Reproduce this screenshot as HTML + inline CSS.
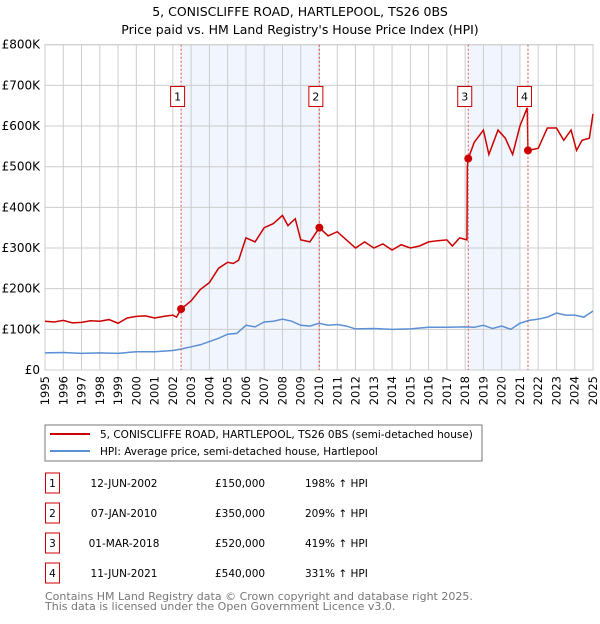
<!DOCTYPE html>
<html><head><meta charset="utf-8"><style>
body{margin:0;background:#fff;font-family:"DejaVu Sans","Liberation Sans",sans-serif}
svg text{font-family:"DejaVu Sans","Liberation Sans",sans-serif}
</style></head><body>
<svg id="c" width="600" height="620" xmlns="http://www.w3.org/2000/svg">
<text x="300" y="16" text-anchor="middle" font-size="12.5">5, CONISCLIFFE ROAD, HARTLEPOOL, TS26 0BS</text>
<text x="300" y="34" text-anchor="middle" font-size="12.5">Price paid vs. HM Land Registry's House Price Index (HPI)</text>
<g id="plot"></g>
<rect x="45" y="425" width="437" height="36" fill="none" stroke="#777"/>
<line x1="50" y1="434" x2="90" y2="434" stroke="#cc0000" stroke-width="2"/>
<text x="100" y="438" font-size="10.5">5, CONISCLIFFE ROAD, HARTLEPOOL, TS26 0BS (semi-detached house)</text>
<line x1="50" y1="451" x2="90" y2="451" stroke="#5b8fd6" stroke-width="2"/>
<text x="100" y="455" font-size="10.5">HPI: Average price, semi-detached house, Hartlepool</text>
<g id="table" font-size="10.5"></g>
<text x="45" y="600" font-size="11" fill="#777">Contains HM Land Registry data © Crown copyright and database right 2025.</text>
<text x="45" y="610" font-size="11" fill="#777">This data is licensed under the Open Government Licence v3.0.</text>
</svg>
<script>
const yTicks=[0,100,200,300,400,500,600,700,800];
const yTickLabels=["£0","£100K","£200K","£300K","£400K","£500K","£600K","£700K","£800K"];
const years=[1995,1996,1997,1998,1999,2000,2001,2002,2003,2004,2005,2006,2007,2008,2009,2010,2011,2012,2013,2014,2015,2016,2017,2018,2019,2020,2021,2022,2023,2024,2025];
const hpiT=[1995,1996,1997,1998,1999,2000,2001,2002,2002.5,2003,2003.5,2004,2004.5,2005,2005.5,2006,2006.5,2007,2007.5,2008,2008.5,2009,2009.5,2010,2010.5,2011,2011.5,2012,2013,2014,2015,2016,2017,2018,2018.5,2019,2019.5,2020,2020.5,2021,2021.5,2022,2022.5,2023,2023.5,2024,2024.5,2025];
const hpiV=[42,43,41,42,41,45,45,48,52,57,62,70,78,88,90,110,106,118,120,125,120,110,108,115,110,112,108,101,102,100,101,105,105,106,105,110,102,108,100,115,122,125,130,140,135,135,130,145];
const redT=[1995,1995.5,1996,1996.5,1997,1997.5,1998,1998.5,1999,1999.5,2000,2000.5,2001,2001.5,2002,2002.2,2002.45,2003,2003.5,2004,2004.5,2005,2005.3,2005.6,2006,2006.5,2007,2007.5,2008,2008.3,2008.7,2009,2009.5,2010.02,2010.5,2011,2011.5,2012,2012.5,2013,2013.5,2014,2014.5,2015,2015.5,2016,2016.5,2017,2017.3,2017.7,2018.1,2018.12,2018.17,2018.5,2019,2019.3,2019.8,2020.2,2020.6,2021,2021.4,2021.44,2022,2022.5,2023,2023.4,2023.8,2024.1,2024.4,2024.8,2025];
const redV=[120,118,122,116,117,121,120,124,115,128,132,133,128,132,135,130,150,170,198,215,250,265,262,270,325,315,350,360,380,355,372,320,315,350,330,340,320,300,315,300,310,295,308,300,305,315,318,320,305,325,320,500,520,560,590,530,590,570,530,600,645,540,545,595,595,565,590,540,565,570,630];
const saleT=[2002.45,2010.02,2018.17,2021.44];
const saleV=[150,350,520,540];
const saleLabels=["1","2","3","4"];
const saleDates=["12-JUN-2002","07-JAN-2010","01-MAR-2018","11-JUN-2021"];
const salePrices=["£150,000","£350,000","£520,000","£540,000"];
const saleHpi=["198% ↑ HPI","209% ↑ HPI","419% ↑ HPI","331% ↑ HPI"];
const X0=45,X1=593,Y0=370,Y1=44.7;
const xs=t=>X0+(t-1995)/30*(X1-X0);
const ys=v=>Y0-v/800*(Y0-Y1);
const NS="http://www.w3.org/2000/svg";
const g=document.getElementById('plot');
function mk(tag,a,parent){const e=document.createElementNS(NS,tag);for(const k in a)e.setAttribute(k,a[k]);(parent||g).appendChild(e);return e;}
let e;
e=mk('rect',{x:X0,y:Y1,width:X1-X0,height:Y0-Y1,fill:'#fff'});


e=mk('rect',{x:xs(saleT[0]),y:Y1,width:xs(saleT[1])-xs(saleT[0]),height:Y0-Y1,fill:'#eef2fc',opacity:0.8});


e=mk('rect',{x:xs(saleT[2]),y:Y1,width:xs(2021.0)-xs(saleT[2]),height:Y0-Y1,fill:'#eef2fc',opacity:0.8});


years.forEach(y=>{e=mk('line',{x1:xs(y),x2:xs(y),y1:Y1,y2:Y0,stroke:'#ccc','stroke-width':1});


e=mk('text',{x:0,y:0,'font-size':11.5,'text-anchor':'end',transform:`translate(${xs(y)+4},${Y0+6}) rotate(-90)`});e.textContent=y;

});
yTicks.forEach((v,i)=>{e=mk('line',{x1:X0,x2:X1,y1:ys(v),y2:ys(v),stroke:'#ccc','stroke-width':1});


e=mk('text',{x:40,y:ys(v)+4,'font-size':12,'text-anchor':'end'});e.textContent=yTickLabels[i];

});
e=mk('rect',{x:X0,y:Y1,width:X1-X0,height:Y0-Y1,fill:'none',stroke:'#ccc'});


e=mk('polyline',{points:hpiT.map((t,i)=>xs(t)+','+ys(hpiV[i])).join(' '),fill:'none',stroke:'#5b8fd6','stroke-width':1.5});


e=mk('polyline',{points:redT.map((t,i)=>xs(t)+','+ys(redV[i])).join(' '),fill:'none',stroke:'#cc0000','stroke-width':1.5});


saleT.forEach((t,i)=>{
e=mk('line',{x1:xs(t),x2:xs(t),y1:Y1,y2:Y0,stroke:'#e05050','stroke-width':1,'stroke-dasharray':'2,2'});


e=mk('circle',{cx:xs(t),cy:ys(saleV[i]),r:4,fill:'#cc0000'});


e=mk('rect',{x:xs(t)-10.5,y:86.5,width:14,height:20,fill:'#fff',stroke:'#cc0000'});


e=mk('text',{x:xs(t)-3.5,y:100.5,'font-size':11,'text-anchor':'middle'});e.textContent=saleLabels[i];


});
const tb=document.getElementById('table');
saleLabels.forEach((l,i)=>{const cy=483+i*30;
e=mk('rect',{x:45.5,y:cy-10,width:14,height:20,fill:'#fff',stroke:'#cc0000'},tb);


e=mk('text',{x:52.5,y:cy+4,'text-anchor':'middle'},tb);e.textContent=l;


e=mk('text',{x:124,y:cy+4,'text-anchor':'middle'},tb);e.textContent=saleDates[i];


e=mk('text',{x:215,y:cy+4},tb);e.textContent=salePrices[i];


e=mk('text',{x:305,y:cy+4},tb);e.textContent=saleHpi[i];


});
</script>
</body></html>
